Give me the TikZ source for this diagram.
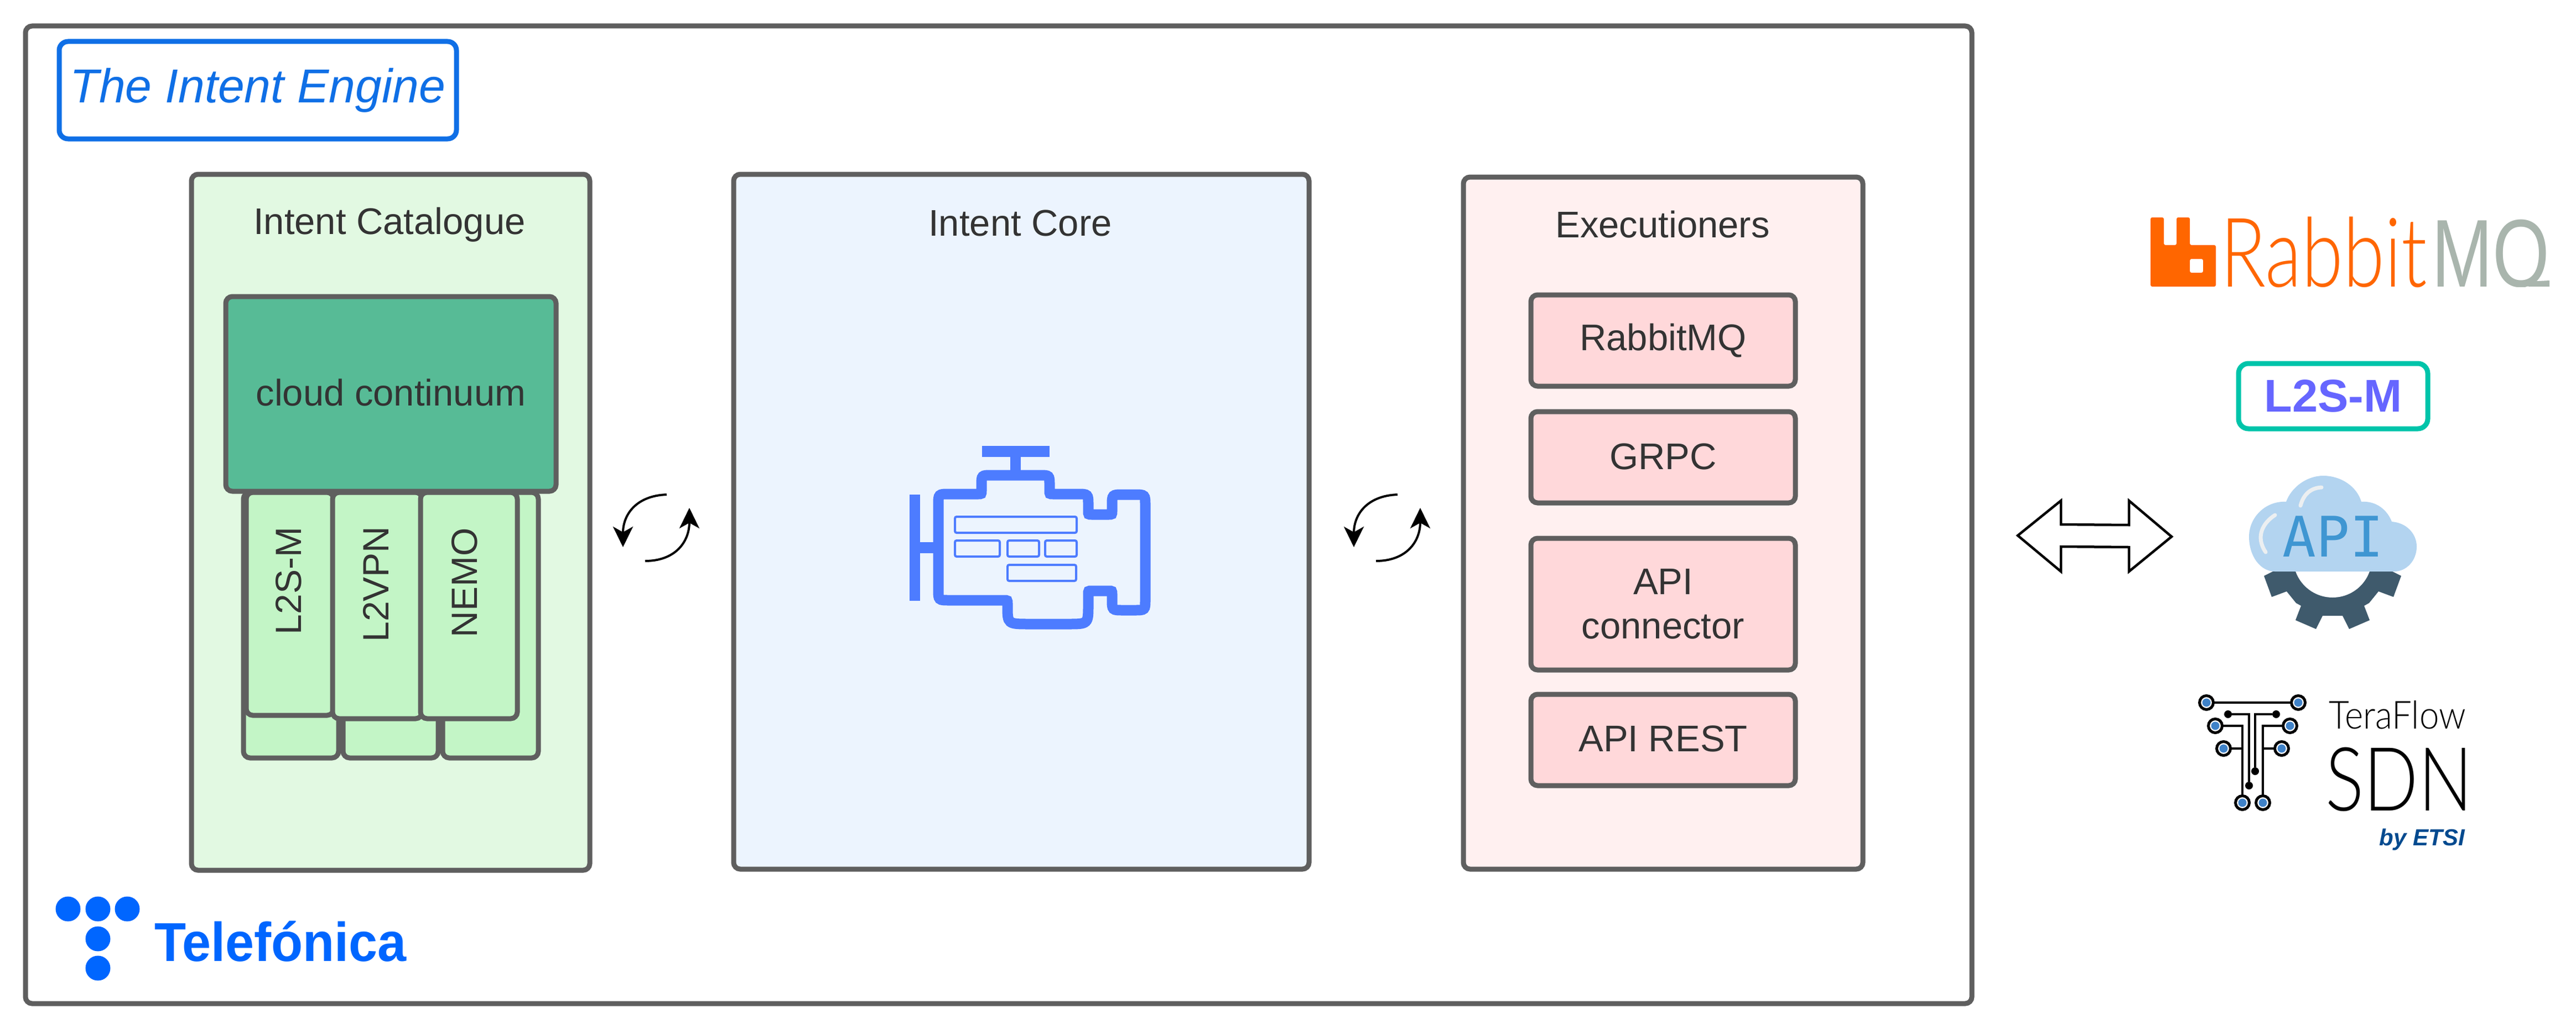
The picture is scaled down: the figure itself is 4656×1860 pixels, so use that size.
\documentclass[tikz,border=0pt]{standalone}
\usepackage{fontspec}
\setmainfont{Liberation Sans}
\newfontfamily\lightfont{Lato Light}
\newfontfamily\monofont{DejaVu Sans Mono}
\usetikzlibrary{arrows.meta}
\definecolor{linegray}{HTML}{5F5F5F}
\definecolor{txt}{HTML}{333333}
\definecolor{tblue}{HTML}{0F6FE6}
\definecolor{catfill}{HTML}{E2F9E2}
\definecolor{colfill}{HTML}{C3F5C6}
\definecolor{cloudfill}{HTML}{57BB96}
\definecolor{corefill}{HTML}{ECF4FE}
\definecolor{exfill}{HTML}{FFF0F0}
\definecolor{exinner}{HTML}{FFD8DA}
\definecolor{engine}{HTML}{4D7CFF}
\definecolor{rabbit}{HTML}{FF6600}
\definecolor{mq}{HTML}{A9B5AD}
\definecolor{teal}{HTML}{00C4AA}
\definecolor{lsm}{HTML}{6666FF}
\definecolor{apicloud}{HTML}{B3D4F0}
\definecolor{apitext}{HTML}{3F96D2}
\definecolor{gear}{HTML}{3F5A6C}
\definecolor{highlight}{HTML}{ECEFF1}
\definecolor{tfblue}{HTML}{3F82C8}
\definecolor{etsi}{HTML}{004A8F}
\definecolor{telef}{HTML}{0066FF}
\tikzset{
  x=1pt,y=-1pt,
  panel/.style={draw=linegray,line width=9,rounded corners=12,anchor=north west,inner sep=0,outer sep=0,text=txt,font=\fontsize{67}{80}\selectfont,align=center},
  title/.style={text=txt,font=\fontsize{67}{80}\selectfont,inner sep=0},
  coltext/.style={text=txt,font=\fontsize{66}{80}\selectfont,inner sep=0,rotate=90},
  swap/.style={line width=4,black,-{Stealth[length=37,width=36,inset=10]}},
  engline/.style={draw=engine,line width=19},
  enginner/.style={draw=engine,line width=4,rounded corners=3},
  tfring/.style={circle,draw=black,line width=5,fill=white,minimum size=25,inner sep=0,outer sep=0},
  tfin/.style={circle,fill=tfblue,minimum size=15,inner sep=0,outer sep=0},
  tfdot/.style={circle,fill=black,minimum size=14,inner sep=0,outer sep=0},
  tfline/.style={draw=black,line width=3.5},
  teldot/.style={circle,fill=telef,minimum size=45,inner sep=0,outer sep=0},
}
\begin{document}
\begin{tikzpicture}
\useasboundingbox (0,0) rectangle (4656,1860);
\fill[white] (0,0) rectangle (4656,1860);
% outer frame
\node[panel,fill=white,minimum width=3518,minimum height=1767] (outer) at (46,47) {};
\node[panel,draw=tblue,fill=white,minimum width=718,minimum height=176,text=tblue,rounded corners=16,font=\fontsize{86}{100}\selectfont\itshape] (engtitle) at (107,75) {\raisebox{5pt}{The Intent Engine}};
% catalogue
\node[panel,fill=catfill,minimum width=720,minimum height=1258] (cat) at (346,315) {};
\node[title] (cattitle) at (704,406) {Intent Catalogue};
\node[panel,fill=colfill,minimum width=172,minimum height=480] (back1) at (440,890) {};
\node[panel,fill=colfill,minimum width=172,minimum height=480] (back2) at (620,890) {};
\node[panel,fill=colfill,minimum width=173,minimum height=480] (back3) at (800,890) {};
\node[panel,fill=colfill,minimum width=158,minimum height=403] (c1) at (445,890) {};
\node[panel,fill=colfill,minimum width=162,minimum height=409] (c2) at (601,890) {};
\node[panel,fill=colfill,minimum width=175,minimum height=409] (c3) at (760,890) {};
\node[coltext] (c1t) at (522,1050) {L2S-M};
\node[coltext] (c2t) at (679,1056) {L2VPN};
\node[coltext] (c3t) at (840,1053) {NEMO};
\node[panel,fill=cloudfill,minimum width=597,minimum height=352] (cc) at (408,536) {\raisebox{5pt}{cloud continuum}};
% core
\node[panel,fill=corefill,minimum width=1040,minimum height=1256] (core) at (1326,315) {};
\node[title] (coretitle) at (1844,403) {Intent Core};
% engine icon
\fill[engine] (1775,806) rectangle (1897,826);
\fill[engine] (1826,826) rectangle (1845,855);
\fill[engine] (1644,894) rectangle (1663,1086);
\fill[engine] (1663,980) rectangle (1700,1000);
\path[engline] (1735,893) -- (1768,893) .. controls (1774,893) .. (1774,887)
 -- (1774,877) .. controls (1774,859) .. (1792,859)
 -- (1879,859) .. controls (1897,859) .. (1897,877)
 -- (1897,887) .. controls (1897,893) .. (1903,893)
 -- (1947,893) .. controls (1967,893) .. (1967,913)
 -- (1967,924) .. controls (1967,930) .. (1973,930)
 -- (2004,930) .. controls (2010,930) .. (2010,924)
 -- (2010,914) .. controls (2010,894) .. (2030,894)
 -- (2050,894) .. controls (2070,894) .. (2070,914)
 -- (2070,1083) .. controls (2070,1103) .. (2050,1103)
 -- (2030,1103) .. controls (2010,1103) .. (2010,1083)
 -- (2010,1074) .. controls (2010,1068) .. (2004,1068)
 -- (1973,1068) .. controls (1967,1068) .. (1967,1074)
 -- (1967,1093) .. controls (1967,1128) .. (1930,1128)
 -- (1861,1128) .. controls (1821,1128) .. (1821,1095)
 -- (1821,1091) .. controls (1821,1085) .. (1815,1085)
 -- (1716,1085) .. controls (1696,1085) .. (1696,1065)
 -- (1696,913) .. controls (1696,893) .. (1716,893) -- cycle;
\draw[enginner] (1726,934) rectangle (1946,963);
\draw[enginner] (1726,977) rectangle (1807,1006);
\draw[enginner] (1821,977) rectangle (1878,1006);
\draw[enginner] (1889,977) rectangle (1946,1006);
\draw[enginner] (1821,1021) rectangle (1945,1050);
% executioners
\node[panel,fill=exfill,minimum width=722,minimum height=1251] (ex) at (2645,320) {};
\node[title] (extitle) at (3005,406) {Executioners};
\node[panel,fill=exinner,minimum width=478,minimum height=165] (e1) at (2767,533) {RabbitMQ};
\node[panel,fill=exinner,minimum width=478,minimum height=165] (e2) at (2767,744) {\raisebox{2pt}{GRPC}};
\node[panel,fill=exinner,minimum width=478,minimum height=238] (e3) at (2767,973) {API\\connector};
\node[panel,fill=exinner,minimum width=478,minimum height=165] (e4) at (2767,1255) {\raisebox{5pt}{API REST}};
% swap arrows
\coordinate (a1s) at (1205,894); \coordinate (a1e) at (1126,989);
\coordinate (a2s) at (1166,1014); \coordinate (a2e) at (1246,918);
\coordinate (a3s) at (2526,894); \coordinate (a3e) at (2447,989);
\coordinate (a4s) at (2487,1014); \coordinate (a4e) at (2567,918);
\draw[swap] (a1s) .. controls (1150,896) and (1126,930) .. (a1e);
\draw[swap] (a2s) .. controls (1220,1014) and (1246,980) .. (a2e);
\draw[swap] (a3s) .. controls (2471,896) and (2447,930) .. (a3e);
\draw[swap] (a4s) .. controls (2541,1014) and (2567,980) .. (a4e);
% big double arrow
\draw[black,fill=white,line width=4.5,miter limit=10] (3647,968) -- (3725,905) -- (3725,948) -- (3848,949) -- (3848,905) -- (3925,970) -- (3848,1033) -- (3848,989) -- (3725,988) -- (3725,1033) -- cycle;
% RabbitMQ logo
\fill[rabbit,even odd rule,rounded corners=3] (3887,393) -- (3911,393) -- (3911,443) -- (3934,443) -- (3934,393) -- (3958,393) -- (3958,443) -- (4005,443) -- (4005,518) -- (3887,518) -- cycle (3958,468) -- (3982,468) -- (3982,493) -- (3958,493) -- cycle;
\node[anchor=base west,inner sep=0,text=rabbit,font=\fontsize{174}{200}\lightfont,xscale=.78] (rabbittxt) at (4013,518) {Rabbit};
\begin{scope}
\clip (4390,370) rectangle (4620,518);
\node[anchor=base west,inner sep=0,text=mq,font=\fontsize{174}{200}\selectfont,xscale=.76] (mqtxt) at (4395,518) {MQ};
\end{scope}
\fill[mq] (4570,509) -- (4608,507) -- (4608,518) -- (4570,518) -- cycle;
% L2S-M badge
\node[draw=teal,fill=white,line width=9,rounded corners=18,minimum width=342,minimum height=118,inner sep=0,outer sep=0,text=lsm,font=\fontsize{83}{100}\selectfont\bfseries] (badge) at (4217,716) {L2S-M};
% API logo
\fill[gear] (4112,1031) -- (4092,1041) -- (4106,1079) -- (4133,1069) -- (4150,1090) -- (4159,1095) -- (4149,1121) -- (4186,1137) -- (4198,1113) -- (4234,1113) -- (4246,1137) -- (4283,1121) -- (4273,1095) -- (4282,1090) -- (4299,1069) -- (4326,1079) -- (4340,1041) -- (4320,1031) -- cycle;
\fill[white] (4216,1009) circle[radius=71];
\fill[apicloud] (4327,1033) -- (4112,1033) .. controls (4085,1033) and (4065,1005) .. (4065,970) .. controls (4065,935) and (4095,905) .. (4132,907) .. controls (4142,880) and (4170,860) .. (4199,860) .. controls (4232,860) and (4260,880) .. (4268,907) .. controls (4295,905) and (4315,922) .. (4323,943) .. controls (4350,945) and (4368,965) .. (4368,988) .. controls (4368,1013) and (4350,1033) .. (4327,1033) -- cycle;
\draw[highlight,line width=7,line cap=round] (4196,881) .. controls (4175,882) and (4163,895) .. (4158,914);
\draw[highlight,line width=7,line cap=round] (4112,931) .. controls (4090,945) and (4076,970) .. (4095,998);
\node[inner sep=0,text=apitext,font=\fontsize{101}{110}\monofont] (apitxt) at (4217,970) {API};
% TeraFlow logo
\coordinate (k1) at (4065,1291); \coordinate (k2) at (4076,1291);
\coordinate (k3) at (4053,1312); \coordinate (k4) at (4090,1312);
\coordinate (k5) at (4053,1353); \coordinate (k6) at (4090,1353);
\node[tfring] (r1) at (3988,1270) {}; \node[tfring] (r2) at (4154,1270) {};
\node[tfring] (r3) at (4004,1312) {}; \node[tfring] (r4) at (4139,1312) {};
\node[tfring] (r5) at (4019,1353) {}; \node[tfring] (r6) at (4124,1353) {};
\node[tfring] (r7) at (4053,1451) {}; \node[tfring] (r8) at (4090,1451) {};
\node[tfdot] (d1) at (4027,1291) {}; \node[tfdot] (d2) at (4114,1291) {};
\node[tfdot] (d3) at (4076,1394) {}; \node[tfdot] (d4) at (4065,1420) {};
\draw[tfline] (r1) -- (r2);
\draw[tfline] (d1) -- (k1) -- (d4);
\draw[tfline] (d2) -- (k2) -- (d3);
\draw[tfline] (r3) -- (k3) -- (r7);
\draw[tfline] (r4) -- (k4) -- (r8);
\draw[tfline] (r5) -- (k5);
\draw[tfline] (r6) -- (k6);
\foreach \n in {r1,r2,r3,r4,r5,r6,r7,r8} \node[tfin] at (\n) {};
\node[anchor=base west,inner sep=0,text=black,font=\fontsize{70}{80}\lightfont,xscale=.91] (tftxt) at (4209,1317) {TeraFlow};
\node[anchor=base west,inner sep=0,text=black,font=\fontsize{160}{180}\lightfont,xscale=.81] (sdntxt) at (4203,1465) {SDN};
\node[anchor=base east,inner sep=0,text=etsi,font=\fontsize{42}{50}\selectfont\bfseries\itshape] (etsitxt) at (4455,1528) {by ETSI};
% Telefonica logo
\node[teldot] (t1) at (123,1643) {}; \node[teldot] (t2) at (177,1643) {};
\node[teldot] (t3) at (230,1643) {}; \node[teldot] (t4) at (177,1697) {};
\node[teldot] (t5) at (177,1750) {};
\node[anchor=base west,inner sep=0,text=telef,font=\fontsize{99}{110}\selectfont\bfseries,xscale=.945] (teltxt) at (279,1737) {Telefónica};
\end{tikzpicture}
\end{document}
